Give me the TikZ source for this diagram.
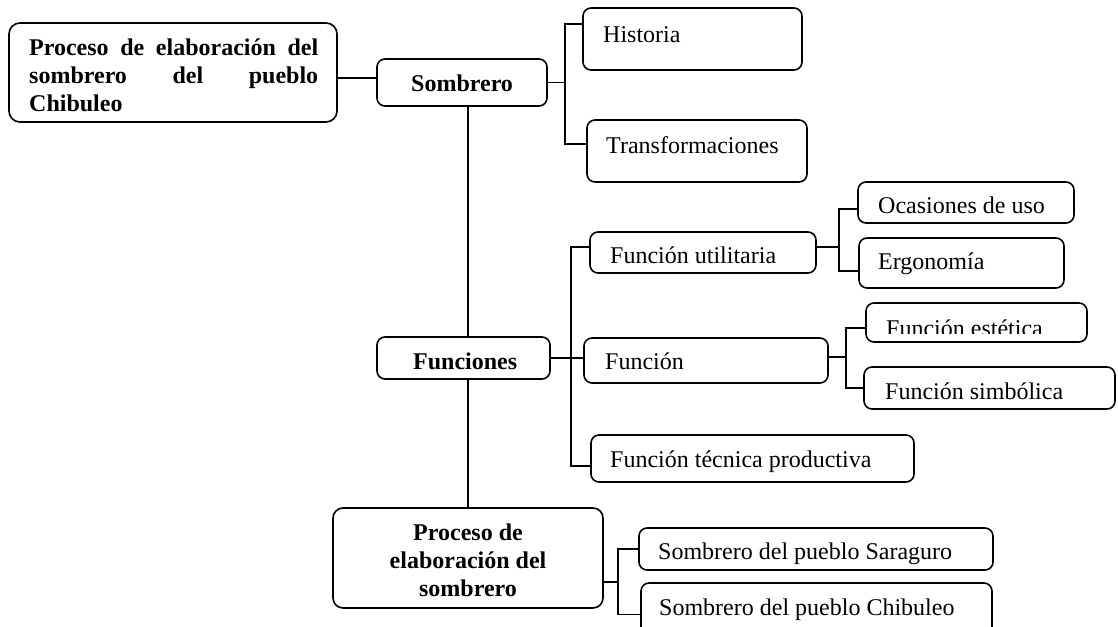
\documentclass[tikz,border=0pt]{standalone}
\usepackage{fontspec}
\setmainfont{Liberation Serif}
\usetikzlibrary{positioning}
\begin{document}
\begin{tikzpicture}[x=1pt,y=-1pt,
  box/.style={draw=black,line width=1.6pt,rounded corners=8pt,inner sep=0pt,outer sep=0pt,anchor=north west},
  txt/.style={inner sep=0pt,anchor=base west,font=\fontsize{24}{28}\selectfont},
  conn/.style={draw=black,line width=1.2pt},
  trunk/.style={draw=black,line width=1.6pt}]
\useasboundingbox (0,0) rectangle (1118,626);
\clip (0,0) rectangle (1118,626);
% boxes
\node[box,minimum width=328pt,minimum height=99pt,rounded corners=11pt] (title) at (9,23) {};
\node[box,minimum width=170pt,minimum height=47pt] (somb) at (377,59) {};
\node[box,minimum width=219pt,minimum height=62pt] (hist) at (583,8) {};
\node[box,minimum width=220pt,minimum height=62pt] (trans) at (587,120) {};
\node[box,minimum width=216pt,minimum height=41pt] (oca) at (858,182) {};
\node[box,minimum width=226pt,minimum height=41pt] (util) at (590,232) {};
\node[box,minimum width=205pt,minimum height=50pt] (ergo) at (859,238) {};
\node[box,minimum width=221pt,minimum height=39pt] (est) at (866,303) {};
\node[box,minimum width=173pt,minimum height=42pt] (func) at (377,337) {};
\node[box,minimum width=244pt,minimum height=45pt] (fn) at (584,338) {};
\node[box,minimum width=251pt,minimum height=42pt] (simb) at (864,367) {};
\node[box,minimum width=323pt,minimum height=47pt] (tec) at (591,435) {};
\node[box,minimum width=270pt,minimum height=100pt,rounded corners=10pt] (proc) at (333,508) {};
\node[box,minimum width=354pt,minimum height=42pt] (sara) at (639,528) {};
\node[box,minimum width=351pt,minimum height=60pt] (chib) at (641,583) {};
% texts
\node[txt,font=\fontsize{24}{28}\selectfont\bfseries] (t-title) at (29,56)
  {\begin{tabular}[t]{@{}l@{}}\makebox[289pt][s]{Proceso de elaboración del}\\\makebox[289pt][s]{sombrero del pueblo}\\Chibuleo\end{tabular}};
\node[txt,font=\fontsize{24}{28}\selectfont\bfseries] (t-somb) at (411,92) {Sombrero};
\node[txt] (t-hist) at (603,42) {Historia};
\node[txt] (t-trans) at (606,153) {Transformaciones};
\node[txt] (t-oca) at (878,213) {Ocasiones de uso};
\node[txt] (t-util) at (610,263) {Función utilitaria};
\node[txt] (t-ergo) at (878,269) {Ergonomía};
\begin{scope}
\clip (860,300) rectangle (1090,333);
\node[txt] (t-est) at (886,336) {Función estética};
\end{scope}
\node[txt,font=\fontsize{24}{28}\selectfont\bfseries] (t-func) at (413,369) {Funciones};
\node[txt] (t-fn) at (605,369) {Función};
\node[txt] (t-simb) at (885,399) {Función simbólica};
\node[txt] (t-tec) at (610,467) {Función técnica productiva};
\node[inner sep=0pt,anchor=base,font=\fontsize{24}{28}\selectfont\bfseries] (t-proc) at (468,540)
  {\begin{tabular}[t]{@{}c@{}}Proceso de\\elaboración del\\sombrero\end{tabular}};
\node[txt] (t-sara) at (658,559) {Sombrero del pueblo Saraguro};
\node[txt] (t-chib) at (659,615) {Sombrero del pueblo Chibuleo};
% connectors
\draw[conn] ([yshift=-5.5pt]title.east) -- ([yshift=-5.5pt]title.east -| somb.west);
\draw[trunk] (somb.south -| proc.north) -- (func.north -| proc.north);
\draw[trunk] (func.south -| proc.north) -- (proc.north);
\draw[conn] (somb.east) -- ++(18,0) coordinate (b1);
\draw[conn] ([yshift=15pt]hist.west) -| (b1) |- ([yshift=7pt]trans.west);
\draw[conn] (func.east) -- (func.east -| fn.west);
\coordinate (b2) at (571,358);
\draw[conn] ([yshift=5.5pt]util.west) -| (b2) |- ([yshift=-7.5pt]tec.west);
\draw[conn] ([yshift=5.5pt]util.east) -- ++(23,0) coordinate (b3);
\draw[conn] ([yshift=-6.5pt]oca.west) -| (b3) |- ([yshift=-8pt]ergo.west);
\draw[conn] ([yshift=3.5pt]fn.east) -- ++(18,0) coordinate (b4);
\draw[conn] ([yshift=-5.5pt]est.west) -| (b4) |- (simb.west);
\draw[conn] ([yshift=-24pt]proc.east) -- ++(15,0) coordinate (b5);
\draw[conn] (sara.west) -| (b5) |- ([yshift=-1.5pt]chib.west);
\end{tikzpicture}
\end{document}
